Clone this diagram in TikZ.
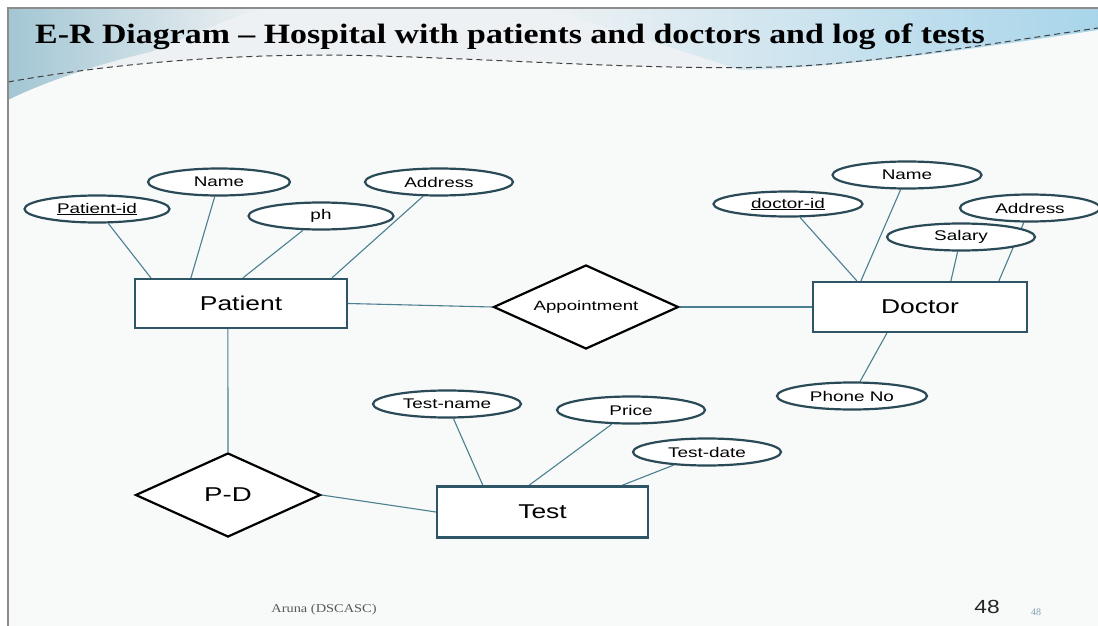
\documentclass[tikz,border=0pt]{standalone}
\usepackage{graphicx}
\usepackage{fontspec}
\setmainfont{Liberation Sans}
\newfontfamily\titlefont{Liberation Serif}
\usetikzlibrary{shapes.geometric,calc}
\definecolor{bgc}{HTML}{F8F9F9}
\definecolor{entc}{HTML}{2E5566}
\definecolor{attc}{HTML}{2B4A57}
\definecolor{connc}{HTML}{4A8090}
\definecolor{hdrgray}{HTML}{EDF1F3}
\definecolor{blueA}{HTML}{A3C6D4}
\definecolor{blueB}{HTML}{A9D5EA}
\definecolor{framec}{HTML}{8C8C8C}
\newcommand{\hs}[2][1.35]{\scalebox{#1}[1]{#2}}
\pgfdeclarelayer{bg}
\pgfsetlayers{bg,main}
\begin{document}
\begin{tikzpicture}[x=1pt,y=-1pt,
  entity/.style={draw=entc,line width=2.2pt,fill=white,rectangle,inner sep=0pt,font=\fontsize{20}{24}\selectfont},
  rel/.style={draw=black,line width=2.2pt,fill=white,diamond,aspect=2.2,inner sep=0pt,minimum width=185pt,minimum height=84pt},
  attr/.style={draw=attc,line width=2.2pt,fill=white,ellipse,inner sep=0pt,minimum height=27pt,font=\fontsize{14}{16}\selectfont},
  conn/.style={draw=connc,line width=1.1pt}]
\useasboundingbox (0,0) rectangle (1098,626);
\begin{pgfonlayer}{bg}
\fill[bgc] (0,0) rectangle (1098,626);
\fill[white] (0,0) rectangle (1098,8);
\fill[white] (0,0) rectangle (8,626);
% header area
\fill[hdrgray] (8,8) -- (1098,8) -- (1098,28) .. controls (1000,42) and (900,60) .. (800,66)
  .. controls (680,72) and (520,60) .. (380,56) .. controls (250,52) and (120,62) .. (8,82) -- cycle;
\shade[left color=blueA,right color=hdrgray] (8,8) -- (260,8) .. controls (200,30) and (170,45) .. (150,52)
  .. controls (90,66) and (40,84) .. (8,100) -- cycle;
\shade[left color=hdrgray,right color=blueB] (543,8) -- (1098,8) -- (1098,30) .. controls (1000,45) and (850,68) .. (740,70)
  .. controls (680,50) and (600,25) .. (543,8) -- cycle;
\draw[black!75,line width=1pt,dash pattern=on 6pt off 4pt] (8,82) .. controls (120,62) and (250,52) .. (380,56)
  .. controls (520,60) and (680,72) .. (800,66) .. controls (900,60) and (1000,42) .. (1098,28);
\draw[framec,line width=1.2pt] (8,626) -- (8,8) -- (1098,8);
\end{pgfonlayer}

\node[anchor=west,inner sep=0pt] (title) at (35,37)
  {\hs[1.21]{\titlefont\bfseries\fontsize{28}{32}\selectfont E-R Diagram – Hospital with patients and doctors and log of tests}};

% entities and relationships
\node[entity,minimum width=212pt,minimum height=49pt] (pat) at (241,303.5) {\hs[1.32]{Patient}};
\node[entity,minimum width=214pt,minimum height=50pt] (doc) at (920,307) {\hs[1.32]{Doctor}};
\node[entity,minimum width=211pt,minimum height=51pt] (test) at (542.5,512) {\hs[1.32]{Test}};
\node[rel,font=\fontsize{13.5}{15}\selectfont] (app) at (586,307) {\hs[1.38]{Appointment}};
\node[rel,font=\fontsize{20}{24}\selectfont] (pd) at (228,495) {\hs[1.38]{P-D}};

% attributes
\node[attr,minimum width=145pt] (pid) at (97,209) {\hs{\underline{Patient-id}}};
\node[attr,minimum width=142pt] (pname) at (219,182) {\hs{Name}};
\node[attr,minimum width=145pt] (ph) at (321,216) {\hs{ph}};
\node[attr,minimum width=148pt] (paddr) at (439,182) {\hs{Address}};
\node[attr,minimum width=149pt,minimum height=25pt] (did) at (788,204) {\hs{\underline{doctor-id}}};
\node[attr,minimum width=149pt] (dname) at (907,175) {\hs{Name}};
\node[attr,minimum width=140pt] (daddr) at (1030,208) {\hs{Address}};
\node[attr,minimum width=148pt] (sal) at (961,237) {\hs{Salary}};
\node[attr,minimum width=150pt] (phone) at (852,396) {\hs{Phone No}};
\node[attr,minimum width=148pt] (tname) at (447,404) {\hs{Test-name}};
\node[attr,minimum width=148pt] (price) at (631,410) {\hs{Price}};
\node[attr,minimum width=148pt] (tdate) at (707,452) {\hs{Test-date}};

% connectors
\begin{pgfonlayer}{bg}
\draw[conn] (pat.east) -- (app.west);
\draw[conn] (app.east) -- (doc.west);
\draw[conn] ($(pat.south west)+(94,0)$) -- (pd.north);
\draw[conn] (pd.east) -- (test.west);
\draw[conn] (pid) -- ($(pat.north west)+(17,0)$);
\draw[conn] (pname) -- ($(pat.north west)+(57,0)$);
\draw[conn] (ph) -- ($(pat.north west)+(109,0)$);
\draw[conn] (paddr) -- ($(pat.north west)+(198,0)$);
\draw[conn] (did) -- ($(doc.north west)+(45,0)$);
\draw[conn] (dname) -- ($(doc.north west)+(49,0)$);
\draw[conn] (sal) -- ($(doc.north west)+(139,0)$);
\draw[conn] (daddr) -- ($(doc.north west)+(187,0)$);
\draw[conn] (phone) -- ($(doc.south west)+(75,0)$);
\draw[conn] (tname) -- ($(test.north west)+(47,0)$);
\draw[conn] (price) -- ($(test.north west)+(93,0)$);
\draw[conn] (tdate) -- ($(test.north west)+(186,0)$);
\end{pgfonlayer}

% footer
\node[text=black!65,inner sep=0pt] (foot) at (324,610) {\hs[1.2]{\titlefont\fontsize{12}{14}\selectfont Aruna (DSCASC)}};
\node[text=black!85,inner sep=0pt] (pg) at (987,607) {\hs[1.2]{\fontsize{19}{22}\selectfont 48}};
\node[text=connc!70,inner sep=0pt] (pgs) at (1036,612) {\titlefont\fontsize{10}{12}\selectfont 48};
\end{tikzpicture}
\end{document}
